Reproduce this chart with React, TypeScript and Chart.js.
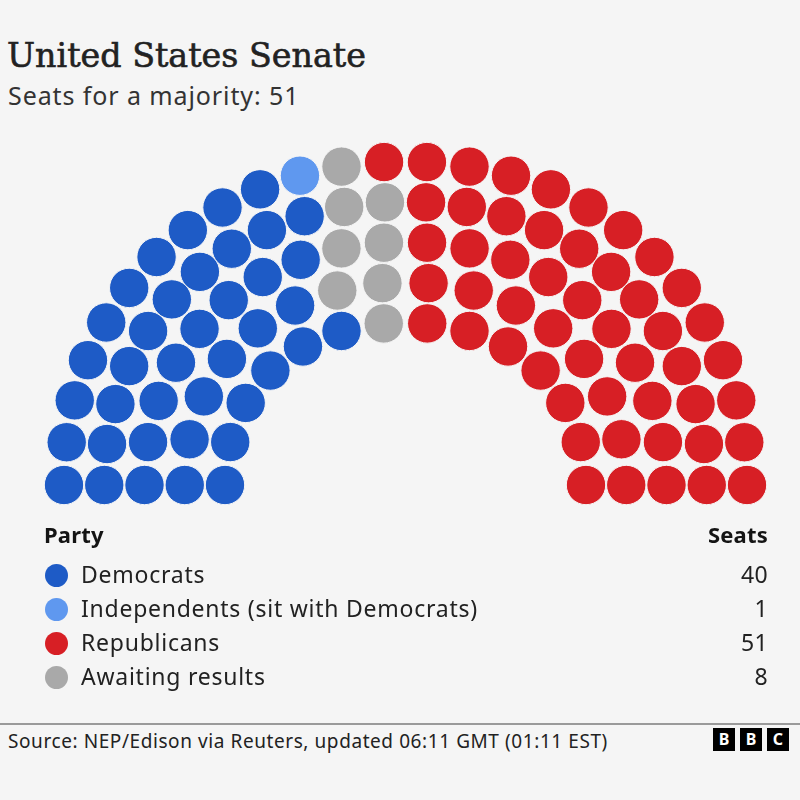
import { useEffect, useRef } from "react";
import { Chart, registerables } from "chart.js";

Chart.register(...registerables);

// Senate composition
const parties = ["Democrats", "Independents (sit with Democrats)", "Republicans", "Awaiting results"];
const seats = [40, 1, 51, 8];
const colours = ["#1e5bc6", "#5f98ef", "#d71f25", "#a9a9a9"];
// blocs are filled into the chamber from left to right in this order
const fillOrder = [0, 1, 3, 2];
// seats in each row of the hemicycle, innermost row first
const rowSeats = [14, 16, 20, 24, 26];

const title = "United States Senate";
const subtitle = "Seats for a majority: 51";
const source = "Source: NEP/Edison via Reuters, updated 06:11 GMT (01:11 EST)";

// chamber geometry (chart units are canvas pixels)
const CANVAS_W = 800;
const CANVAS_H = 520;
const CENTRE_X = 405.5;
const BASE_Y = 485;
const INNER_RADIUS = 180.5;
const ROW_GAP = 40.25;
const FLATTEN = 18;
const DOT_R = 19.7;

const BG = "#f5f5f5";
const SANS = "'Noto Sans', 'Open Sans', sans-serif";

type Seat = { x: number; y: number; angle: number; row: number };

function layoutSeats(): Seat[] {
  const out: Seat[] = [];
  rowSeats.forEach((n, row) => {
    const r = INNER_RADIUS + row * ROW_GAP;
    for (let j = 0; j < n; j++) {
      const a = (Math.PI * j) / (n - 1);
      const s = Math.sin(a);
      // arcs are slightly flattened towards the top of the chamber
      out.push({ x: -r * Math.cos(a), y: r * s - FLATTEN * s * s * s, angle: a, row });
    }
  });
  out.sort((p, q) => {
    const d = p.angle - q.angle;
    if (Math.abs(d) > 1e-9) return d;
    return q.row - p.row;
  });
  return out;
}

function HemicycleChart() {
  const ref = useRef<HTMLCanvasElement | null>(null);

  useEffect(() => {
    if (!ref.current) return;
    const all = layoutSeats();
    let next = 0;
    const datasets = fillOrder.map((p) => {
      const pts = all.slice(next, next + seats[p]).map((s) => ({ x: s.x, y: s.y }));
      next += seats[p];
      return {
        label: parties[p],
        data: pts,
        backgroundColor: colours[p],
        borderColor: BG,
        borderWidth: 1,
        pointRadius: DOT_R,
        pointHoverRadius: DOT_R,
      };
    });

    const chart = new Chart(ref.current, {
      type: "scatter",
      data: { datasets },
      options: {
        responsive: false,
        animation: false,
        events: [],
        layout: { padding: 0, autoPadding: false },
        plugins: { legend: { display: false }, tooltip: { enabled: false } },
        scales: {
          x: { type: "linear", display: false, min: -CENTRE_X, max: CANVAS_W - CENTRE_X },
          y: { type: "linear", display: false, min: BASE_Y - CANVAS_H, max: BASE_Y },
        },
      },
    });
    return () => chart.destroy();
  }, []);

  return (
    <canvas
      ref={ref}
      width={CANVAS_W}
      height={CANVAS_H}
      style={{ position: "absolute", left: 0, top: 0, width: CANVAS_W, height: CANVAS_H }}
    />
  );
}

// top offset for a single-line box whose line-height equals its font size
const topFor = (baseline: number, size: number, k: number) => baseline - k * size;
const NOTO_K = 0.888;
const DEJAVU_K = 0.846;

function Legend() {
  const rowY = [575, 609, 643, 677];
  const text = { fontFamily: SANS, fontSize: 23, lineHeight: "23px", color: "#222", letterSpacing: "0.75px" };
  const head = { fontFamily: SANS, fontWeight: 700, fontSize: 22, lineHeight: "22px", color: "#141414", letterSpacing: "0.2px" };
  return (
    <>
      <div style={{ position: "absolute", left: 44, top: topFor(543, 22, NOTO_K), ...head }}>Party</div>
      <div style={{ position: "absolute", right: 800 - 768, top: topFor(543, 22, NOTO_K), ...head }}>Seats</div>
      {parties.map((name, i) => (
        <div key={name}>
          <div style={{ position: "absolute", left: 56 - 11.5, top: rowY[i] - 11.5, width: 23, height: 23, borderRadius: "50%", background: colours[i] }} />
          <div style={{ position: "absolute", left: 81, top: topFor(rowY[i] + 8, 23, NOTO_K), ...text }}>{name}</div>
          <div style={{ position: "absolute", right: 800 - 768, top: topFor(rowY[i] + 8, 23, NOTO_K), ...text, letterSpacing: "0.4px" }}>{seats[i]}</div>
        </div>
      ))}
    </>
  );
}

function Footer() {
  const blocks = [713, 740, 767];
  return (
    <>
      <div style={{ position: "absolute", left: 0, top: 723, width: 800, height: 2, background: "#9a9a9a" }} />
      <div style={{ position: "absolute", left: 8, top: topFor(749, 19, NOTO_K), fontFamily: SANS, fontSize: 19, lineHeight: "19px", color: "#222", letterSpacing: "0.58px", whiteSpace: "nowrap" }}>
        {source}
      </div>
      {["B", "B", "C"].map((ch, i) => (
        <div key={i} style={{ position: "absolute", left: blocks[i], top: 728, width: 22, height: 23, background: "#000", color: "#fff", fontFamily: SANS, fontWeight: 700, fontSize: 16, lineHeight: "23px", textAlign: "center" }}>
          {ch}
        </div>
      ))}
    </>
  );
}

export default function App() {
  return (
    <div style={{ position: "fixed", left: 0, top: 0, width: 800, height: 800, background: BG, overflow: "hidden" }}>
      <div style={{ position: "absolute", left: 7, top: topFor(67, 33.3, DEJAVU_K), fontFamily: "'DejaVu Serif', serif", fontSize: 33.3, lineHeight: "33.3px", color: "#222", WebkitTextStroke: "0.6px #222", whiteSpace: "nowrap" }}>
        {title}
      </div>
      <div style={{ position: "absolute", left: 8, top: topFor(105, 25, NOTO_K), fontFamily: SANS, fontSize: 25, lineHeight: "25px", color: "#333", letterSpacing: "0.9px", whiteSpace: "nowrap" }}>
        {subtitle}
      </div>
      <HemicycleChart />
      <Legend />
      <Footer />
    </div>
  );
}
